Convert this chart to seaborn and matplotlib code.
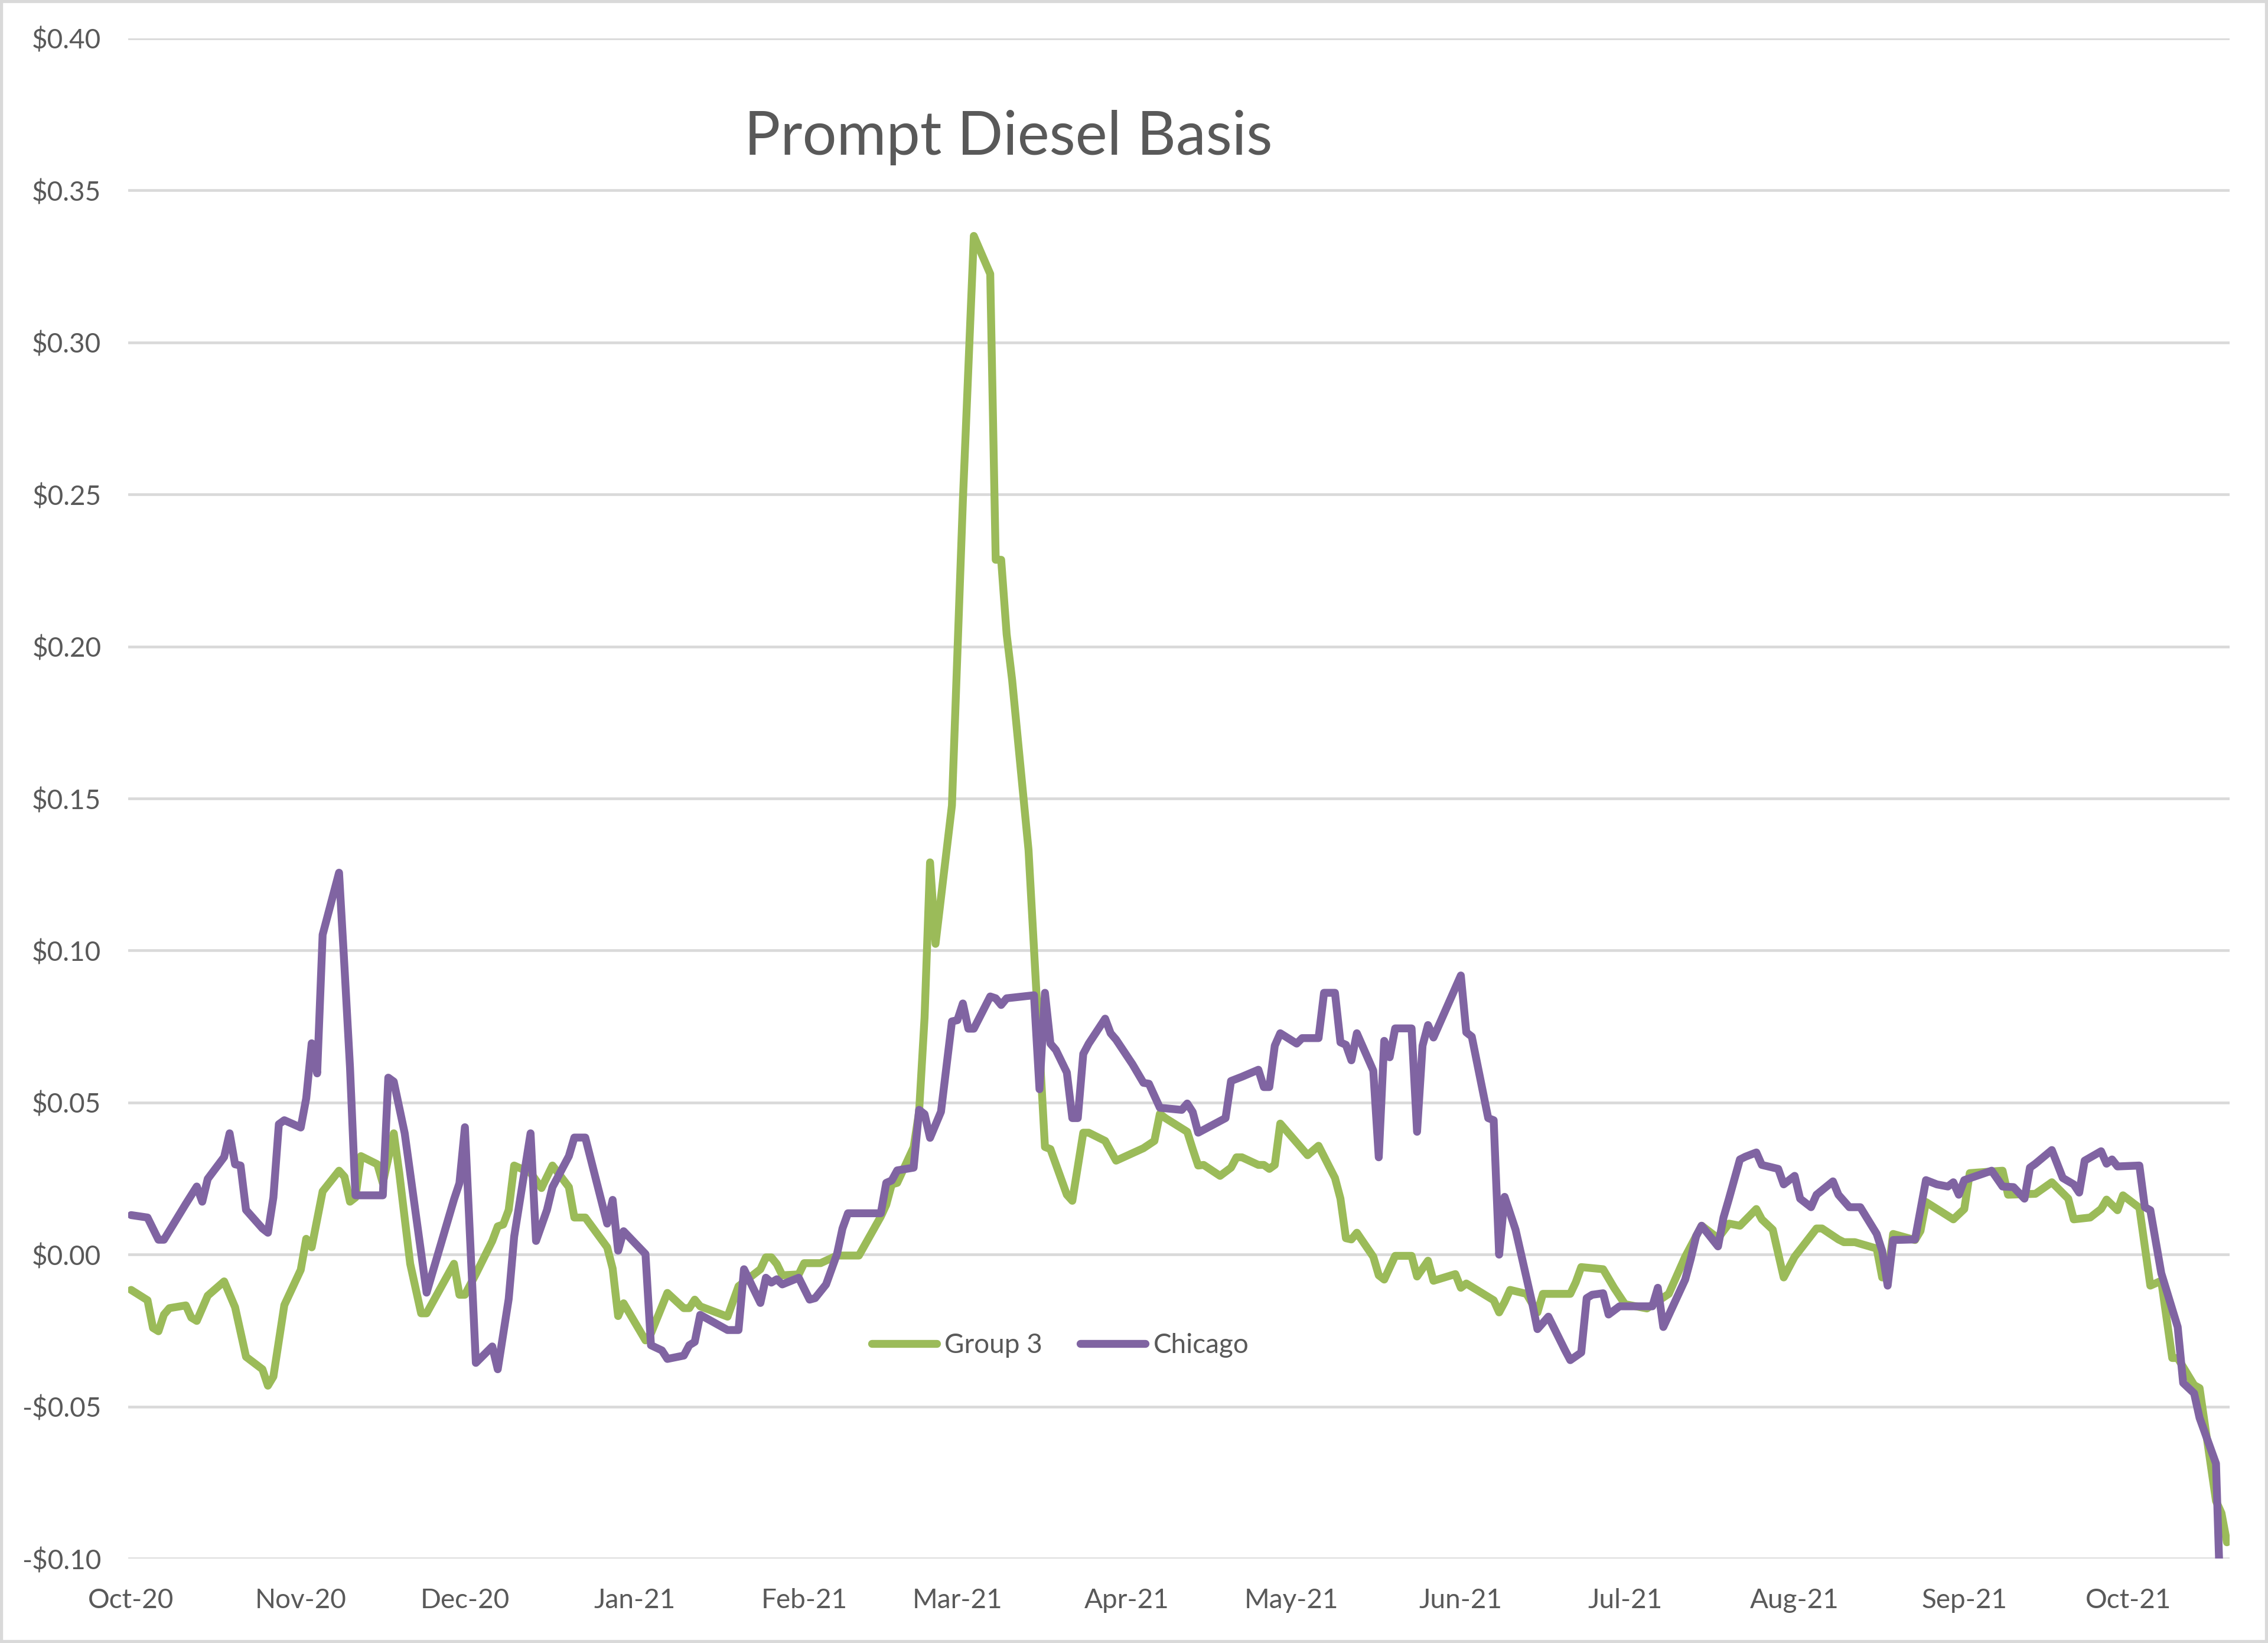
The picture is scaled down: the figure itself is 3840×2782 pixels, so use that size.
import matplotlib
matplotlib.use("Agg")
import matplotlib.pyplot as plt
import matplotlib.dates as mdates
from matplotlib.ticker import FuncFormatter
from matplotlib.lines import Line2D
from matplotlib.patches import Rectangle
import pandas as pd
import seaborn as sns

# ---------------- data ----------------
group3_dates = [
    "2020-10-01", "2020-10-04", "2020-10-05", "2020-10-06", "2020-10-07", "2020-10-08", "2020-10-11",
    "2020-10-12", "2020-10-13", "2020-10-15", "2020-10-18", "2020-10-20", "2020-10-22", "2020-10-25",
    "2020-10-26", "2020-10-27", "2020-10-29", "2020-11-01", "2020-11-02", "2020-11-03", "2020-11-05",
    "2020-11-08", "2020-11-09", "2020-11-10", "2020-11-11", "2020-11-12", "2020-11-15", "2020-11-16",
    "2020-11-18", "2020-11-19", "2020-11-21", "2020-11-23", "2020-11-24", "2020-11-29", "2020-11-30",
    "2020-12-01", "2020-12-03", "2020-12-06", "2020-12-07", "2020-12-08", "2020-12-09", "2020-12-10",
    "2020-12-13", "2020-12-15", "2020-12-17", "2020-12-20", "2020-12-21", "2020-12-23", "2020-12-27",
    "2020-12-28", "2020-12-29", "2020-12-30", "2021-01-03", "2021-01-04", "2021-01-07", "2021-01-10",
    "2021-01-11", "2021-01-12", "2021-01-13", "2021-01-18", "2021-01-19", "2021-01-20", "2021-01-24",
    "2021-01-25", "2021-01-26", "2021-01-27", "2021-01-28", "2021-01-31", "2021-02-01", "2021-02-04",
    "2021-02-07", "2021-02-11", "2021-02-15", "2021-02-16", "2021-02-17", "2021-02-18", "2021-02-21",
    "2021-02-22", "2021-02-23", "2021-02-24", "2021-02-25", "2021-02-28", "2021-03-02", "2021-03-04",
    "2021-03-07", "2021-03-08", "2021-03-09", "2021-03-10", "2021-03-11", "2021-03-14", "2021-03-17",
    "2021-03-18", "2021-03-21", "2021-03-22", "2021-03-24", "2021-03-25", "2021-03-28", "2021-03-30",
    "2021-04-04", "2021-04-06", "2021-04-07", "2021-04-08", "2021-04-12", "2021-04-13", "2021-04-14",
    "2021-04-15", "2021-04-18", "2021-04-20", "2021-04-21", "2021-04-22", "2021-04-25", "2021-04-26",
    "2021-04-27", "2021-04-28", "2021-04-29", "2021-05-04", "2021-05-06", "2021-05-09", "2021-05-10",
    "2021-05-11", "2021-05-12", "2021-05-13", "2021-05-16", "2021-05-17", "2021-05-18", "2021-05-20",
    "2021-05-23", "2021-05-24", "2021-05-26", "2021-05-27", "2021-05-31", "2021-06-01", "2021-06-02",
    "2021-06-07", "2021-06-08", "2021-06-09", "2021-06-10", "2021-06-13", "2021-06-15", "2021-06-16",
    "2021-06-21", "2021-06-22", "2021-06-23", "2021-06-27", "2021-06-29", "2021-07-01", "2021-07-05",
    "2021-07-09", "2021-07-12", "2021-07-15", "2021-07-18", "2021-07-20", "2021-07-22", "2021-07-25",
    "2021-07-26", "2021-07-28", "2021-07-30", "2021-08-01", "2021-08-05", "2021-08-06", "2021-08-09",
    "2021-08-10", "2021-08-12", "2021-08-16", "2021-08-17", "2021-08-18", "2021-08-19", "2021-08-23",
    "2021-08-24", "2021-08-25", "2021-08-30", "2021-09-01", "2021-09-02", "2021-09-08", "2021-09-09",
    "2021-09-14", "2021-09-17", "2021-09-20", "2021-09-21", "2021-09-24", "2021-09-26", "2021-09-27",
    "2021-09-29", "2021-09-30", "2021-10-03", "2021-10-05", "2021-10-07", "2021-10-09", "2021-10-10",
    "2021-10-13", "2021-10-14", "2021-10-17", "2021-10-18", "2021-10-19",
]
group3_values = [
    -0.0116, -0.0150, -0.0241, -0.0252, -0.0197, -0.0176, -0.0167,
    -0.0207, -0.0218, -0.0135, -0.0088, -0.0173, -0.0336, -0.0377,
    -0.0431, -0.0401, -0.0166, -0.0050, 0.0052, 0.0024, 0.0208,
    0.0276, 0.0256, 0.0174, 0.0188, 0.0324, 0.0297, 0.0235,
    0.0399, 0.0269, -0.0030, -0.0193, -0.0193, -0.0030, -0.0132,
    -0.0132, -0.0064, 0.0045, 0.0093, 0.0099, 0.0147, 0.0293,
    0.0269, 0.0219, 0.0293, 0.0222, 0.0122, 0.0122, 0.0024,
    -0.0046, -0.0202, -0.0160, -0.0282, -0.0259, -0.0126, -0.0176,
    -0.0176, -0.0148, -0.0170, -0.0204, -0.0154, -0.0104, -0.0048,
    -0.0009, -0.0009, -0.0031, -0.0068, -0.0065, -0.0028, -0.0028,
    -0.0003, -0.0003, 0.0125, 0.0164, 0.0231, 0.0236, 0.0353,
    0.0470, 0.0780, 0.1290, 0.1022, 0.1477, 0.2479, 0.3350,
    0.3225, 0.2285, 0.2285, 0.2040, 0.1890, 0.1330, 0.0354,
    0.0347, 0.0197, 0.0177, 0.0401, 0.0401, 0.0374, 0.0309,
    0.0350, 0.0374, 0.0463, 0.0449, 0.0404, 0.0347, 0.0293,
    0.0295, 0.0259, 0.0286, 0.0320, 0.0320, 0.0295, 0.0295,
    0.0282, 0.0295, 0.0431, 0.0327, 0.0358, 0.0252, 0.0184,
    0.0054, 0.0050, 0.0072, -0.0007, -0.0068, -0.0082, -0.0004,
    -0.0004, -0.0072, -0.0020, -0.0086, -0.0064, -0.0109, -0.0095,
    -0.0150, -0.0190, -0.0156, -0.0116, -0.0129, -0.0190, -0.0129,
    -0.0129, -0.0091, -0.0041, -0.0048, -0.0109, -0.0163, -0.0177,
    -0.0129, -0.0007, 0.0095, 0.0054, 0.0102, 0.0095, 0.0150,
    0.0116, 0.0082, -0.0075, -0.0007, 0.0086, 0.0086, 0.0050,
    0.0041, 0.0041, 0.0020, -0.0075, -0.0075, 0.0068, 0.0048,
    0.0078, 0.0173, 0.0116, 0.0150, 0.0268, 0.0276, 0.0197,
    0.0200, 0.0238, 0.0184, 0.0116, 0.0122, 0.0150, 0.0181,
    0.0146, 0.0195, 0.0154, -0.0102, -0.0086, -0.0340, -0.0340,
    -0.0429, -0.0439, -0.0810, -0.0850, -0.0946,
]

chicago_dates = [
    "2020-10-01", "2020-10-04", "2020-10-06", "2020-10-07", "2020-10-11", "2020-10-13", "2020-10-14",
    "2020-10-15", "2020-10-18", "2020-10-19", "2020-10-20", "2020-10-21", "2020-10-22", "2020-10-25",
    "2020-10-26", "2020-10-27", "2020-10-28", "2020-10-29", "2020-11-01", "2020-11-02", "2020-11-03",
    "2020-11-04", "2020-11-05", "2020-11-08", "2020-11-09", "2020-11-10", "2020-11-11", "2020-11-16",
    "2020-11-17", "2020-11-18", "2020-11-20", "2020-11-24", "2020-11-29", "2020-11-30", "2020-12-01",
    "2020-12-03", "2020-12-06", "2020-12-07", "2020-12-09", "2020-12-10", "2020-12-13", "2020-12-14",
    "2020-12-16", "2020-12-17", "2020-12-20", "2020-12-21", "2020-12-23", "2020-12-27", "2020-12-28",
    "2020-12-29", "2020-12-30", "2021-01-03", "2021-01-04", "2021-01-06", "2021-01-07", "2021-01-10",
    "2021-01-11", "2021-01-12", "2021-01-13", "2021-01-18", "2021-01-20", "2021-01-21", "2021-01-24",
    "2021-01-25", "2021-01-26", "2021-01-27", "2021-01-28", "2021-01-31", "2021-02-02", "2021-02-03",
    "2021-02-05", "2021-02-07", "2021-02-08", "2021-02-09", "2021-02-15", "2021-02-16", "2021-02-17",
    "2021-02-18", "2021-02-21", "2021-02-22", "2021-02-23", "2021-02-24", "2021-02-26", "2021-02-28",
    "2021-03-01", "2021-03-02", "2021-03-03", "2021-03-04", "2021-03-07", "2021-03-08", "2021-03-09",
    "2021-03-10", "2021-03-15", "2021-03-16", "2021-03-17", "2021-03-18", "2021-03-19", "2021-03-21",
    "2021-03-22", "2021-03-23", "2021-03-24", "2021-03-25", "2021-03-28", "2021-03-29", "2021-03-30",
    "2021-04-02", "2021-04-04", "2021-04-05", "2021-04-07", "2021-04-11", "2021-04-12", "2021-04-13",
    "2021-04-14", "2021-04-19", "2021-04-20", "2021-04-22", "2021-04-25", "2021-04-26", "2021-04-27",
    "2021-04-28", "2021-04-29", "2021-05-02", "2021-05-03", "2021-05-06", "2021-05-07", "2021-05-09",
    "2021-05-10", "2021-05-11", "2021-05-12", "2021-05-13", "2021-05-16", "2021-05-17", "2021-05-18",
    "2021-05-19", "2021-05-20", "2021-05-23", "2021-05-24", "2021-05-25", "2021-05-26", "2021-05-27",
    "2021-06-01", "2021-06-02", "2021-06-03", "2021-06-06", "2021-06-07", "2021-06-08", "2021-06-09",
    "2021-06-11", "2021-06-14", "2021-06-15", "2021-06-17", "2021-06-20", "2021-06-21", "2021-06-23",
    "2021-06-24", "2021-06-25", "2021-06-27", "2021-06-28", "2021-06-30", "2021-07-02", "2021-07-06",
    "2021-07-07", "2021-07-08", "2021-07-12", "2021-07-13", "2021-07-14", "2021-07-15", "2021-07-18",
    "2021-07-19", "2021-07-20", "2021-07-22", "2021-07-23", "2021-07-25", "2021-07-26", "2021-07-29",
    "2021-07-30", "2021-08-01", "2021-08-02", "2021-08-04", "2021-08-05", "2021-08-08", "2021-08-09",
    "2021-08-11", "2021-08-13", "2021-08-16", "2021-08-17", "2021-08-18", "2021-08-19", "2021-08-23",
    "2021-08-25", "2021-08-27", "2021-08-29", "2021-08-30", "2021-08-31", "2021-09-01", "2021-09-06",
    "2021-09-08", "2021-09-10", "2021-09-12", "2021-09-13", "2021-09-14", "2021-09-17", "2021-09-19",
    "2021-09-21", "2021-09-22", "2021-09-23", "2021-09-26", "2021-09-27", "2021-09-28", "2021-09-29",
    "2021-10-03", "2021-10-04", "2021-10-05", "2021-10-07", "2021-10-10", "2021-10-11", "2021-10-13",
    "2021-10-14", "2021-10-17", "2021-10-18",
]
chicago_values = [
    0.0130, 0.0122, 0.0049, 0.0049, 0.0167, 0.0224, 0.0174,
    0.0249, 0.0321, 0.0399, 0.0297, 0.0293, 0.0147, 0.0086,
    0.0072, 0.0188, 0.0429, 0.0442, 0.0418, 0.0514, 0.0695,
    0.0596, 0.1052, 0.1256, 0.0943, 0.0616, 0.0195, 0.0195,
    0.0582, 0.0569, 0.0399, -0.0125, 0.0181, 0.0235, 0.0419,
    -0.0356, -0.0302, -0.0377, -0.0146, 0.0059, 0.0399, 0.0045,
    0.0147, 0.0222, 0.0324, 0.0385, 0.0385, 0.0102, 0.0180,
    0.0013, 0.0077, 0.0002, -0.0298, -0.0315, -0.0343, -0.0332,
    -0.0298, -0.0287, -0.0198, -0.0248, -0.0248, -0.0048, -0.0159,
    -0.0076, -0.0092, -0.0081, -0.0098, -0.0076, -0.0148, -0.0143,
    -0.0098, 0.0002, 0.0086, 0.0136, 0.0136, 0.0236, 0.0244,
    0.0277, 0.0286, 0.0476, 0.0462, 0.0384, 0.0470, 0.0767,
    0.0771, 0.0826, 0.0743, 0.0743, 0.0849, 0.0843, 0.0821,
    0.0843, 0.0853, 0.0544, 0.0861, 0.0694, 0.0673, 0.0599,
    0.0449, 0.0449, 0.0660, 0.0694, 0.0776, 0.0728, 0.0707,
    0.0626, 0.0565, 0.0562, 0.0483, 0.0476, 0.0497, 0.0469,
    0.0401, 0.0449, 0.0571, 0.0585, 0.0608, 0.0551, 0.0551,
    0.0687, 0.0728, 0.0694, 0.0712, 0.0712, 0.0861, 0.0861,
    0.0698, 0.0690, 0.0639, 0.0728, 0.0605, 0.0320, 0.0703,
    0.0649, 0.0744, 0.0744, 0.0404, 0.0687, 0.0755, 0.0714,
    0.0918, 0.0731, 0.0717, 0.0449, 0.0442, 0.0000, 0.0190,
    0.0082, -0.0156, -0.0245, -0.0204, -0.0313, -0.0347, -0.0322,
    -0.0143, -0.0132, -0.0127, -0.0197, -0.0170, -0.0170, -0.0170,
    -0.0109, -0.0238, -0.0082, -0.0015, 0.0061, 0.0095, 0.0027,
    0.0122, 0.0184, 0.0313, 0.0322, 0.0336, 0.0295, 0.0282,
    0.0231, 0.0259, 0.0184, 0.0156, 0.0197, 0.0241, 0.0197,
    0.0156, 0.0156, 0.0068, 0.0012, -0.0102, 0.0048, 0.0050,
    0.0245, 0.0231, 0.0224, 0.0238, 0.0197, 0.0245, 0.0276,
    0.0224, 0.0222, 0.0184, 0.0286, 0.0299, 0.0344, 0.0252,
    0.0231, 0.0204, 0.0309, 0.0340, 0.0299, 0.0313, 0.0290,
    0.0293, 0.0156, 0.0146, -0.0061, -0.0238, -0.0422, -0.0456,
    -0.0537, -0.0687, -0.1250,
]

series_names = ["Group 3", "Chicago"]
series_colors = ["#9BBB59", "#8064A2"]
month_ticks = ["2020-10-01", "2020-11-01", "2020-12-01", "2021-01-01", "2021-02-01", "2021-03-01",
               "2021-04-01", "2021-05-01", "2021-06-01", "2021-07-01", "2021-08-01", "2021-09-01",
               "2021-10-01"]
y_ticks = [-0.10, -0.05, 0.00, 0.05, 0.10, 0.15, 0.20, 0.25, 0.30, 0.35, 0.40]
title_text = "Prompt Diesel Basis"

# ---------------- build long table ----------------
df = pd.concat([
    pd.DataFrame({"date": pd.to_datetime(group3_dates), "value": group3_values, "series": series_names[0]}),
    pd.DataFrame({"date": pd.to_datetime(chicago_dates), "value": chicago_values, "series": series_names[1]}),
], ignore_index=True)

# ---------------- style ----------------
sns.set_theme(style="white")
plt.rcParams["font.family"] = ["Lato", "DejaVu Sans"]
TEXT = "#595959"
GRID = "#D9D9D9"
LW = 3.2

fig = plt.figure(figsize=(12.8, 2782 / 300), dpi=300)
ax = fig.add_axes([0.0566, 0.0513, 0.9265, 0.9254])

palette = dict(zip(series_names, series_colors))
sns.lineplot(data=df, x="date", y="value", hue="series", hue_order=series_names,
             palette=palette, estimator=None, sort=True, linewidth=LW, legend=False, ax=ax,
             solid_joinstyle="round", solid_capstyle="round")

# axes limits / ticks
start = pd.Timestamp("2020-10-01") - pd.Timedelta(hours=12)
end = pd.Timestamp("2021-10-19") + pd.Timedelta(hours=12)
ax.set_xlim(start, end)
ax.set_ylim(-0.10, 0.40)
ax.set_yticks(y_ticks)
ax.yaxis.set_major_formatter(FuncFormatter(lambda v, p: f"-${abs(v):.2f}" if v < -1e-9 else f"${abs(v):.2f}"))
ax.set_xticks(pd.to_datetime(month_ticks))
ax.xaxis.set_major_formatter(mdates.DateFormatter("%b-%y"))

ax.grid(axis="y", color=GRID, linewidth=1.1)
ax.grid(axis="x", visible=False)
ax.set_axisbelow(True)
for s in ax.spines.values():
    s.set_visible(False)
ax.tick_params(axis="y", length=0, pad=11, labelsize=11, labelcolor=TEXT)
ax.tick_params(axis="x", length=0, pad=12, labelsize=11, labelcolor=TEXT)
ax.set_xlabel("")
ax.set_ylabel("")

# title
fig.text(0.4445, 0.9164, title_text, ha="center", va="center", fontsize=24.5, color=TEXT)

# legend
handles = [Line2D([0], [0], color=c, linewidth=LW, solid_capstyle="round") for c in series_colors]
fig.legend(handles, series_names, loc="center", bbox_to_anchor=(0.4675, 0.1813), ncol=2,
           frameon=False, fontsize=11, handlelength=2.4, handletextpad=0.3, columnspacing=1.4,
           labelcolor=TEXT)

# outer chart border
fig.patches.append(Rectangle((0, 0), 1, 1, transform=fig.transFigure, fill=False,
                             edgecolor=GRID, linewidth=2.5))

fig.savefig("out.png", dpi=300, facecolor="white")
